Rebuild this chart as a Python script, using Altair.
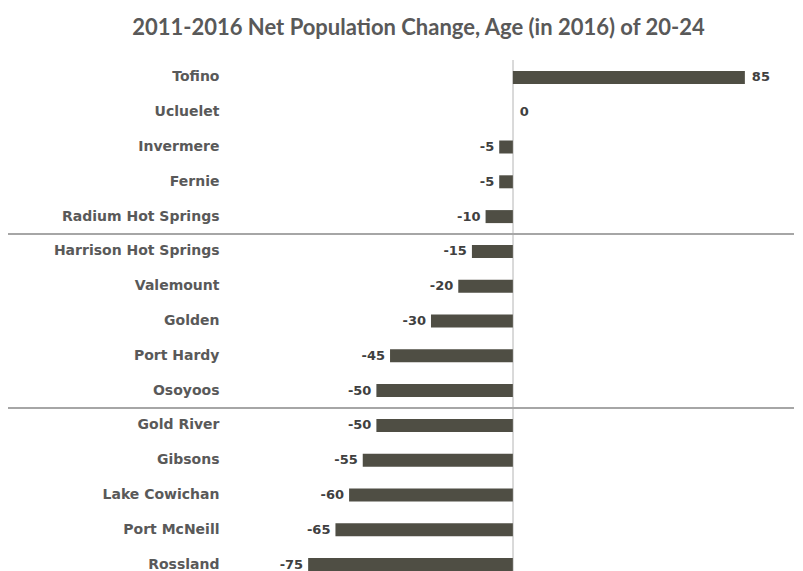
import altair as alt
import pandas as pd

towns = ["Tofino", "Ucluelet", "Invermere", "Fernie", "Radium Hot Springs",
         "Harrison Hot Springs", "Valemount", "Golden", "Port Hardy", "Osoyoos",
         "Gold River", "Gibsons", "Lake Cowichan", "Port McNeill", "Rossland"]
values = [85, 0, -5, -5, -10, -15, -20, -30, -45, -50, -50, -55, -60, -65, -75]
group_starts = ["Harrison Hot Springs", "Gold River"]

df = pd.DataFrame({"town": towns, "value": values,
                   "sep": [t in group_starts for t in towns]})

W, H = 565, 522
ROW = H / len(towns)
xscale = alt.Scale(domain=[-104, 103], nice=False, zero=False)
yscale = alt.Scale(domain=towns, paddingInner=0, paddingOuter=0)
yaxis = alt.Axis(title=None, ticks=False, domain=False, labelPadding=10,
                 labelFont="DejaVu Sans", labelFontWeight="bold",
                 labelFontSize=14, labelColor="#595959", grid=False)

X = alt.X("value:Q", scale=xscale, axis=None)
Y = alt.Y("town:N", scale=yscale, axis=yaxis)

base = alt.Chart(df).transform_calculate(label="'' + datum.value")

bars = base.mark_bar(size=13, color="#4f4e44").encode(x=X, y=Y)

zero = base.mark_rule(color="#d9d9d9", strokeWidth=1).encode(
    x=alt.X("z:Q", scale=xscale, axis=None)
).transform_calculate(z="0")

seps = base.transform_filter("datum.sep").mark_rule(
    color="#a6a6a6", strokeWidth=2, yOffset=-ROW / 2
).encode(y=Y, x=alt.value(-221), x2=alt.value(W + 20))

lab_style = dict(font="DejaVu Sans", fontWeight="bold", fontSize=13, color="#404040", baseline="middle")
pos_labels = base.transform_filter("datum.value >= 0").mark_text(
    align="left", dx=7, **lab_style).encode(x=X, y=Y, text="label:N")
neg_labels = base.transform_filter("datum.value < 0").mark_text(
    align="right", dx=-5, **lab_style).encode(x=X, y=Y, text="label:N")

chart = alt.layer(zero, seps, bars, pos_labels, neg_labels).properties(
    width=W, height=H,
    title=alt.TitleParams("2011-2016 Net Population Change, Age (in 2016) of 20-24",
                          font="Lato", fontWeight="bold", fontSize=22, color="#595959",
                          anchor="middle", dx=-93, offset=20),
    autosize=alt.AutoSizeParams(type="none"),
    padding={"left": 221, "top": 52, "right": 0, "bottom": 0},
).configure_view(stroke=None)

chart.save("out.html", embed_options={"renderer": "svg", "actions": False})
